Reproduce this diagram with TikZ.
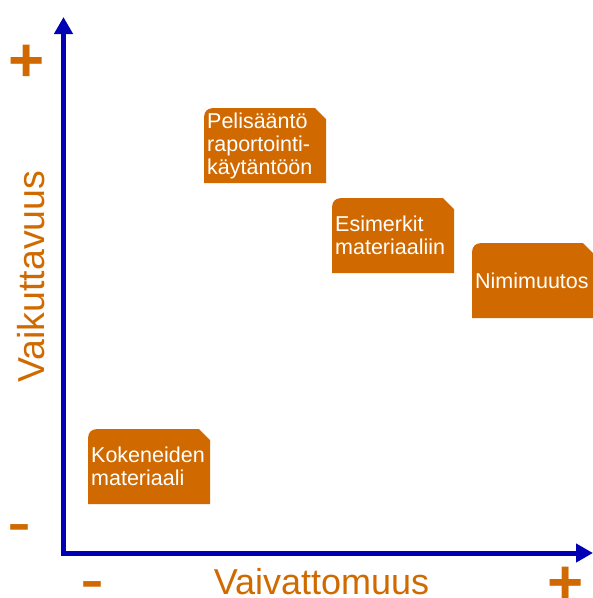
\documentclass[tikz,border=0pt]{standalone}
\usepackage{fontspec}
\setmainfont{Liberation Sans}
\usetikzlibrary{arrows.meta, positioning}

\definecolor{cardorange}{RGB}{208,106,0}
\definecolor{axisblue}{RGB}{0,0,180}

\tikzset{
  card/.style={anchor=north west, inner xsep=3pt, inner ysep=0pt,
    text width=116pt, minimum height=75pt, align=left, text=white,
    font=\fontsize{21.5}{23}\selectfont,
    path picture={
      \fill[cardorange] (path picture bounding box.south west)
        [rounded corners=8pt] -- (path picture bounding box.north west)
        [sharp corners] -- ([xshift=-11pt]path picture bounding box.north east)
        -- ([yshift=-11pt]path picture bounding box.north east)
        -- (path picture bounding box.south east) -- cycle;}},
  axis/.style={draw=axisblue, line width=5pt,
    {Triangle[width=18pt, length=17pt]}-{Triangle[width=18pt, length=17pt]}},
  axislabel/.style={text=cardorange, font=\fontsize{36}{36}\selectfont},
  sign/.style={text=cardorange, inner sep=0pt}
}

\begin{document}
\begin{tikzpicture}[x=1pt, y=-1pt]
  \useasboundingbox (0,0) rectangle (593,598);

  % axes
  \coordinate (origin) at (63.5,553);
  \coordinate (ytop) at (63.5,17);
  \coordinate (xend) at (593,553);
  \draw[axis] (ytop) -- (origin) -- (xend);

  % axis labels
  \node[axislabel, rotate=90, anchor=base, font=\fontsize{37.5}{37.5}\selectfont] (ylabel) at (45,276.5) {Vaikuttavuus};
  \node[axislabel, anchor=base] (xlabel) at (321.5,594) {Vaivattomuus};
  \node[sign, font=\fontsize{62}{62}\bfseries] (yplus) at (27,63) {+};
  \node[sign, font=\fontsize{72}{72}\selectfont] (yminus) at (19,536) {-};
  \node[sign, font=\fontsize{72}{72}\selectfont] (xminus) at (92,593) {-};
  \node[sign, font=\fontsize{62}{62}\bfseries] (xplus) at (566,585) {+};

  % cards
  \node[card] (rule) at (204,108) {Pelisääntö\\raportointi-\\käytäntöön};
  \node[card] (examples) at (332,198) {Esimerkit\\materiaaliin};
  \node[card] (rename) at (472,243) {Nimimuutos};
  \node[card] (veterans) at (88,429) {Kokeneiden\\materiaali};
\end{tikzpicture}
\end{document}
